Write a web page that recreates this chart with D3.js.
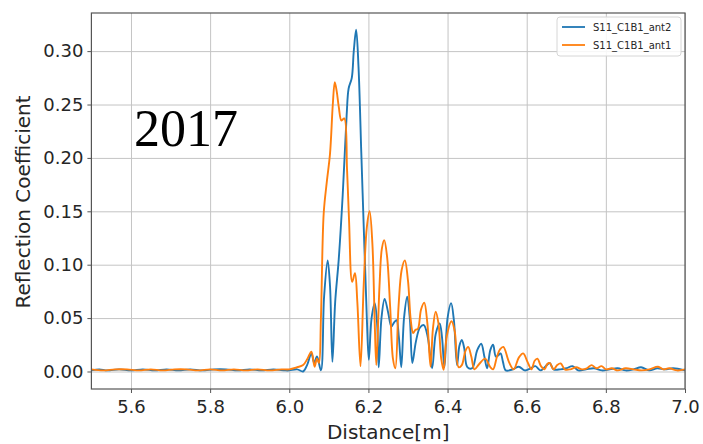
<!DOCTYPE html>
<html>
<head>
<meta charset="utf-8">
<script src="https://cdn.jsdelivr.net/npm/d3@7"></script>
<style>
  body { margin: 0; background: #fff; }
  svg { display: block; font-family: "DejaVu Sans", sans-serif; }
</style>
</head>
<body>
<svg width="703" height="444"></svg>
<script>
// values
var xTicks = [5.6, 5.8, 6.0, 6.2, 6.4, 6.6, 6.8, 7.0];
var yTicks = [0.00, 0.05, 0.10, 0.15, 0.20, 0.25, 0.30];
var seriesNames = ["S11_C1B1_ant2", "S11_C1B1_ant1"];

// S11_C1B1_ant2 (blue)
var ant2Dist = [5.50, 5.52, 5.54, 5.57, 5.60, 5.63, 5.66, 5.69, 5.72, 5.75, 5.78, 5.81, 5.84, 5.87, 5.90, 5.93, 5.96, 5.99,
  6.00, 6.02, 6.035, 6.045, 6.056, 6.063, 6.070, 6.080, 6.088, 6.097, 6.103, 6.109, 6.116, 6.125, 6.135, 6.145, 6.150,
  6.158, 6.163, 6.169, 6.175, 6.182, 6.190, 6.196, 6.201, 6.208, 6.216, 6.222, 6.226, 6.233, 6.241, 6.250, 6.258,
  6.265, 6.271, 6.277, 6.283, 6.290, 6.298, 6.305, 6.311, 6.320, 6.330, 6.340, 6.350, 6.361, 6.370, 6.380, 6.386,
  6.392, 6.400, 6.409, 6.416, 6.424, 6.430, 6.436, 6.442, 6.450, 6.462, 6.475, 6.485, 6.493, 6.500, 6.508, 6.515,
  6.522, 6.528, 6.534, 6.540, 6.547, 6.565, 6.580, 6.595, 6.610, 6.622, 6.635, 6.648, 6.658, 6.668, 6.685, 6.700,
  6.716, 6.730, 6.75, 6.77, 6.79, 6.81, 6.83, 6.85, 6.87, 6.889, 6.91, 6.93, 6.95, 6.97, 7.00];
var ant2Val = [0.001, 0.002, 0.001, 0.002, 0.001, 0.002, 0.001, 0.002, 0.001, 0.002, 0.001, 0.002, 0.002, 0.001, 0.002, 0.001, 0.002, 0.001,
  0.001, 0.002, 0.000, 0.006, 0.017, 0.008, 0.014, 0.001, 0.070, 0.104, 0.080, 0.009, 0.065, 0.105, 0.165, 0.240, 0.265,
  0.275, 0.300, 0.320, 0.285, 0.205, 0.115, 0.050, 0.011, 0.050, 0.064, 0.045, 0.004, 0.050, 0.068, 0.055, 0.042,
  0.046, 0.048, 0.032, 0.004, 0.050, 0.070, 0.048, 0.008, 0.028, 0.041, 0.0435, 0.032, 0.003, 0.035, 0.045, 0.032,
  0.004, 0.050, 0.064, 0.048, 0.006, 0.024, 0.0295, 0.022, 0.004, 0.003, 0.020, 0.026, 0.014, 0.003, 0.020, 0.025,
  0.014, 0.015, 0.017, 0.009, 0.001, 0.002, 0.0045, 0.001, 0.003, 0.005, 0.001, 0.005, 0.008, 0.002, 0.002, 0.003,
  0.005, 0.001, 0.002, 0.003, 0.001, 0.002, 0.003, 0.001, 0.002, 0.004, 0.001, 0.003, 0.002, 0.003, 0.001];

// S11_C1B1_ant1 (orange)
var ant1Dist = [5.50, 5.53, 5.56, 5.59, 5.62, 5.65, 5.68, 5.71, 5.74, 5.77, 5.80, 5.83, 5.86, 5.89, 5.92, 5.95, 5.98,
  6.00, 6.02, 6.035, 6.046, 6.056, 6.064, 6.070, 6.075, 6.080, 6.087, 6.095, 6.103, 6.110, 6.115, 6.120, 6.125, 6.132,
  6.139, 6.146, 6.151, 6.159, 6.166, 6.172, 6.180, 6.188, 6.196, 6.203, 6.210, 6.216, 6.220, 6.228, 6.234, 6.240,
  6.247, 6.255, 6.262, 6.268, 6.276, 6.284, 6.292, 6.300, 6.307, 6.313, 6.319, 6.325, 6.333, 6.341, 6.349, 6.357,
  6.363, 6.370, 6.377, 6.384, 6.390, 6.398, 6.410, 6.418, 6.428, 6.436, 6.445, 6.452, 6.460, 6.468, 6.480, 6.495,
  6.508, 6.515, 6.525, 6.533, 6.541, 6.555, 6.567, 6.580, 6.591, 6.602, 6.612, 6.620, 6.627, 6.636, 6.645, 6.652,
  6.658, 6.668, 6.677, 6.686, 6.696, 6.71, 6.725, 6.74, 6.752, 6.764, 6.776, 6.789, 6.80, 6.815, 6.83, 6.85, 6.87,
  6.89, 6.91, 6.932, 6.945, 6.96, 6.98, 7.00];
var ant1Val = [0.002, 0.001, 0.002, 0.002, 0.001, 0.002, 0.001, 0.002, 0.002, 0.001, 0.002, 0.001, 0.002, 0.001, 0.002, 0.001, 0.002,
  0.002, 0.004, 0.006, 0.012, 0.0185, 0.0045, 0.012, 0.008, 0.050, 0.148, 0.178, 0.204, 0.250, 0.271, 0.262, 0.248, 0.235,
  0.237, 0.189, 0.142, 0.084, 0.092, 0.065, 0.005, 0.080, 0.135, 0.150, 0.120, 0.045, 0.006, 0.080, 0.115, 0.123,
  0.108, 0.060, 0.012, 0.003, 0.060, 0.095, 0.104, 0.085, 0.048, 0.036, 0.039, 0.040, 0.058, 0.0645, 0.045, 0.0045,
  0.040, 0.056, 0.045, 0.012, 0.0015, 0.033, 0.047, 0.038, 0.004, 0.006, 0.019, 0.023, 0.014, 0.002, 0.007, 0.012,
  0.004, 0.002, 0.014, 0.021, 0.023, 0.009, 0.002, 0.013, 0.017, 0.009, 0.002, 0.010, 0.012, 0.005, 0.002, 0.007,
  0.008, 0.002, 0.006, 0.0075, 0.002, 0.002, 0.004, 0.002, 0.003, 0.006, 0.003, 0.005, 0.002, 0.003, 0.001, 0.003, 0.002,
  0.001, 0.002, 0.0045, 0.002, 0.003, 0.001, 0.002];

var colors = ["#1f77b4", "#ff7f0e"];

var svg = d3.select("svg");
var plotLeft = 91.4, plotRight = 685, plotTop = 13, plotBottom = 389;

var x = d3.scaleLinear().domain([5.5, 7.0]).range([plotLeft, plotRight]);
var y = d3.scaleLinear().domain([-0.0164, 0.3357]).range([plotBottom, plotTop]);

// grid lines
svg.append("g")
  .attr("transform", "translate(0," + plotBottom + ")")
  .call(d3.axisBottom(x).tickValues(xTicks).tickSize(-(plotBottom - plotTop)).tickFormat(""))
  .call(function(g) {
    g.select(".domain").remove();
    g.selectAll("line").attr("stroke", "#c4c4c4").attr("stroke-width", 1);
  });
svg.append("g")
  .attr("transform", "translate(" + plotLeft + ",0)")
  .call(d3.axisLeft(y).tickValues(yTicks).tickSize(-(plotRight - plotLeft)).tickFormat(""))
  .call(function(g) {
    g.select(".domain").remove();
    g.selectAll("line").attr("stroke", "#c4c4c4").attr("stroke-width", 1);
  });

// the two traces
svg.append("clipPath").attr("id", "plotclip")
  .append("rect").attr("x", plotLeft).attr("y", plotTop)
  .attr("width", plotRight - plotLeft).attr("height", plotBottom - plotTop);

var line = d3.line()
  .x(function(d) { return x(d[0]); })
  .y(function(d) { return y(d[1]); })
  .curve(d3.curveCatmullRom.alpha(0.5));

var traces = [d3.zip(ant2Dist, ant2Val), d3.zip(ant1Dist, ant1Val)];
svg.append("g").attr("clip-path", "url(#plotclip)")
  .selectAll("path.trace")
  .data(traces)
  .enter()
  .append("path")
  .attr("class", "trace")
  .attr("fill", "none")
  .attr("stroke", function(d, i) { return colors[i]; })
  .attr("stroke-width", 1.9)
  .attr("stroke-linejoin", "round")
  .attr("d", line);

// axes with outward ticks
var xAxis = svg.append("g")
  .attr("transform", "translate(0," + plotBottom + ")")
  .call(d3.axisBottom(x).tickValues(xTicks).tickSize(4).tickSizeOuter(0).tickFormat(d3.format(".1f")));
var yAxis = svg.append("g")
  .attr("transform", "translate(" + plotLeft + ",0)")
  .call(d3.axisLeft(y).tickValues(yTicks).tickSize(4).tickSizeOuter(0).tickFormat(d3.format(".2f")));
[xAxis, yAxis].forEach(function(g) {
  g.select(".domain").remove();
  g.selectAll("line").attr("stroke", "#555");
  g.selectAll("text").attr("fill", "#262626").style("font-size", "18px").style("font-family", "DejaVu Sans");
});
xAxis.selectAll("text").attr("dy", "0.95em");
yAxis.selectAll("text").attr("x", -8);

// frame
svg.append("rect")
  .attr("x", plotLeft).attr("y", plotTop)
  .attr("width", plotRight - plotLeft).attr("height", plotBottom - plotTop)
  .attr("fill", "none").attr("stroke", "#555").attr("stroke-width", 1.2);

// axis labels
svg.append("text")
  .attr("x", (plotLeft + plotRight) / 2).attr("y", 439)
  .attr("text-anchor", "middle")
  .attr("fill", "#262626")
  .style("font-size", "20px")
  .text("Distance[m]");
svg.append("text")
  .attr("transform", "translate(30," + ((plotTop + plotBottom) / 2 + 1) + ") rotate(-90)")
  .attr("text-anchor", "middle")
  .attr("fill", "#262626")
  .style("font-size", "20px")
  .text("Reflection Coefficient");

// legend
var legend = svg.append("g").attr("transform", "translate(557,17)");
legend.append("rect")
  .attr("width", 124).attr("height", 39).attr("rx", 3)
  .attr("fill", "#fff").attr("fill-opacity", 0.85)
  .attr("stroke", "#d6d6d6");
seriesNames.forEach(function(name, i) {
  var row = legend.append("g").attr("transform", "translate(0," + (10 + i * 18) + ")");
  row.append("line").attr("x1", 5).attr("x2", 28).attr("y1", 0).attr("y2", 0)
    .attr("stroke", colors[i]).attr("stroke-width", 1.8);
  row.append("text").attr("x", 36).attr("y", 0).attr("dy", "0.35em")
    .attr("fill", "#262626").style("font-size", "10px")
    .text(name);
});

// year annotation
svg.append("text")
  .attr("x", 134).attr("y", 146)
  .attr("fill", "#000")
  .style("font-family", "Liberation Serif, serif")
  .style("font-size", "52px")
  .text("2017");
</script>
</body>
</html>
